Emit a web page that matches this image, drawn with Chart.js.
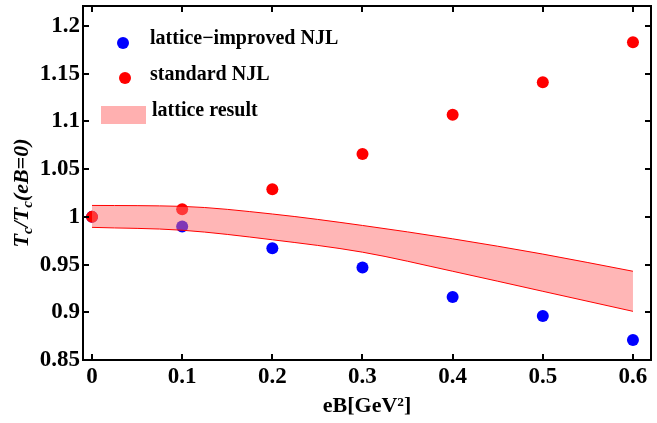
<!DOCTYPE html>
<html>
<head>
<meta charset="utf-8">
<script src="https://cdn.jsdelivr.net/npm/chart.js@4"></script>
<style>
  html, body { margin: 0; padding: 0; background: #fff; }
  canvas { display: block; }
</style>
</head>
<body>
<canvas id="myChart" width="657" height="423"></canvas>
<script>
// data
const eB = [0, 0.1, 0.2, 0.3, 0.4, 0.5, 0.6];
const improvedNJL = [1.0, 0.990, 0.967, 0.947, 0.916, 0.896, 0.871];
const standardNJL = [1.0, 1.008, 1.029, 1.066, 1.107, 1.141, 1.183];
const latticeUpper = [1.012, 1.011, 1.003, 0.991, 0.977, 0.961, 0.943];
const latticeLower = [0.989, 0.986, 0.976, 0.963, 0.943, 0.922, 0.901];
const xTicks = [0, 0.1, 0.2, 0.3, 0.4, 0.5, 0.6];
const yTicks = [0.85, 0.9, 0.95, 1.0, 1.05, 1.1, 1.15, 1.2];

const SERIF = "'Liberation Serif', 'Times New Roman', serif";

const pts = (ys) => eB.map((x, i) => ({ x: x, y: ys[i] }));
const fmt = (v) => String(+v.toFixed(2));

// frame + inward ticks on all four sides
const framePlugin = {
  id: 'frame',
  afterDraw(chart) {
    const { ctx, chartArea: a, scales } = chart;
    ctx.save();
    ctx.strokeStyle = '#000';
    ctx.lineWidth = 2;
    ctx.strokeRect(a.left, a.top, a.right - a.left, a.bottom - a.top);
    const len = 6;
    ctx.beginPath();
    xTicks.forEach(v => {
      const px = Math.round(scales.x.getPixelForValue(v));
      ctx.moveTo(px, a.bottom); ctx.lineTo(px, a.bottom - len);
      ctx.moveTo(px, a.top); ctx.lineTo(px, a.top + len);
    });
    yTicks.forEach(v => {
      const py = Math.round(scales.y.getPixelForValue(v));
      ctx.moveTo(a.left, py); ctx.lineTo(a.left + len, py);
      ctx.moveTo(a.right, py); ctx.lineTo(a.right - len, py);
    });
    ctx.stroke();
    ctx.restore();
  }
};

// legend inside the plot, top left
const legendPlugin = {
  id: 'insideLegend',
  afterDraw(chart) {
    const ctx = chart.ctx;
    ctx.save();
    ctx.font = 'bold 20px ' + SERIF;
    ctx.textBaseline = 'middle';

    ctx.fillStyle = 'rgb(0,0,255)';
    ctx.beginPath(); ctx.arc(123, 43, 6, 0, Math.PI * 2); ctx.fill();
    ctx.fillStyle = '#000';
    ctx.fillText('lattice\u2212improved NJL', 150, 39);

    ctx.fillStyle = 'rgb(255,0,0)';
    ctx.beginPath(); ctx.arc(125, 78, 6, 0, Math.PI * 2); ctx.fill();
    ctx.fillStyle = '#000';
    ctx.fillText('standard NJL', 150, 75);

    ctx.fillStyle = 'rgb(255,176,176)';
    ctx.fillRect(101, 106, 45, 18);
    ctx.fillStyle = '#000';
    ctx.fillText('lattice result', 152, 111);
    ctx.restore();
  }
};

// y title with subscripts: T_c/T_c(eB=0)
const yTitlePlugin = {
  id: 'yTitle',
  afterDraw(chart) {
    const ctx = chart.ctx;
    const parts = [
      ['T', 0], ['c', 1], ['/T', 0], ['c', 1], ['(eB=0)', 0]
    ];
    const big = 'italic bold 22px ' + SERIF;
    const small = 'italic bold 15px ' + SERIF;
    let total = 0;
    parts.forEach(p => { ctx.font = p[1] ? small : big; total += ctx.measureText(p[0]).width; });
    ctx.save();
    ctx.translate(28, 193);
    ctx.rotate(-Math.PI / 2);
    ctx.fillStyle = '#000';
    ctx.textBaseline = 'alphabetic';
    let x = -total / 2;
    parts.forEach(p => {
      ctx.font = p[1] ? small : big;
      ctx.fillText(p[0], x, p[1] ? 4 : 0);
      x += ctx.measureText(p[0]).width;
    });
    ctx.restore();
  }
};

const data = {
  datasets: [
    {
      label: 'lattice-improved NJL',
      data: pts(improvedNJL),
      showLine: false,
      pointRadius: 6,
      pointBorderWidth: 0,
      pointBackgroundColor: 'rgb(0,0,255)',
      order: 4,
    },
    {
      label: 'standard NJL',
      data: pts(standardNJL),
      showLine: false,
      pointRadius: 6,
      pointBorderWidth: 0,
      pointBackgroundColor: 'rgb(255,0,0)',
      order: 3,
    },
    {
      label: 'lattice upper',
      type: 'line',
      data: pts(latticeUpper),
      showLine: true,
      pointRadius: 0,
      borderColor: 'rgb(255,0,0)',
      borderWidth: 1,
      cubicInterpolationMode: 'monotone',
      fill: '+1',
      backgroundColor: 'rgba(255,110,110,0.5)',
      order: 2,
    },
    {
      label: 'lattice lower',
      type: 'line',
      data: pts(latticeLower),
      showLine: true,
      pointRadius: 0,
      borderColor: 'rgb(255,0,0)',
      borderWidth: 1,
      cubicInterpolationMode: 'monotone',
      fill: false,
      order: 1,
    },
  ],
};

const config = {
  type: 'scatter',
  data: data,
  options: {
    responsive: false,
    animation: false,
    devicePixelRatio: 1,
    layout: { padding: { left: 0, right: 2, top: 6, bottom: 0 } },
    plugins: {
      legend: { display: false },
      tooltip: { enabled: false },
    },
    scales: {
      x: {
        type: 'linear',
        min: -0.01,
        max: 0.62,
        grid: { display: false, drawTicks: false },
        border: { display: false },
        afterBuildTicks: (s) => { s.ticks = xTicks.map(v => ({ value: v })); },
        afterFit: (s) => { s.height = 63; s.paddingLeft = 0; s.paddingRight = 0; },
        ticks: {
          padding: 3,
          color: '#000',
          font: { family: SERIF, size: 23, weight: 'bold' },
          callback: (v) => fmt(v),
        },
        title: {
          display: true,
          text: 'eB[GeV\u00B2]',
          color: '#000',
          font: { family: SERIF, size: 22, weight: 'bold' },
          padding: { top: 0, bottom: 3 },
        },
      },
      y: {
        type: 'linear',
        min: 0.85,
        max: 1.221,
        grid: { display: false, drawTicks: false },
        border: { display: false },
        afterBuildTicks: (s) => { s.ticks = yTicks.map(v => ({ value: v })); },
        afterFit: (s) => { s.width = 83; s.paddingTop = 0; s.paddingBottom = 0; },
        ticks: {
          padding: 3,
          color: '#000',
          font: { family: SERIF, size: 23, weight: 'bold' },
          callback: (v) => fmt(v),
        },
      },
    },
  },
  plugins: [framePlugin, legendPlugin, yTitlePlugin],
};

const myChart = new Chart('myChart', config);
</script>
</body>
</html>
